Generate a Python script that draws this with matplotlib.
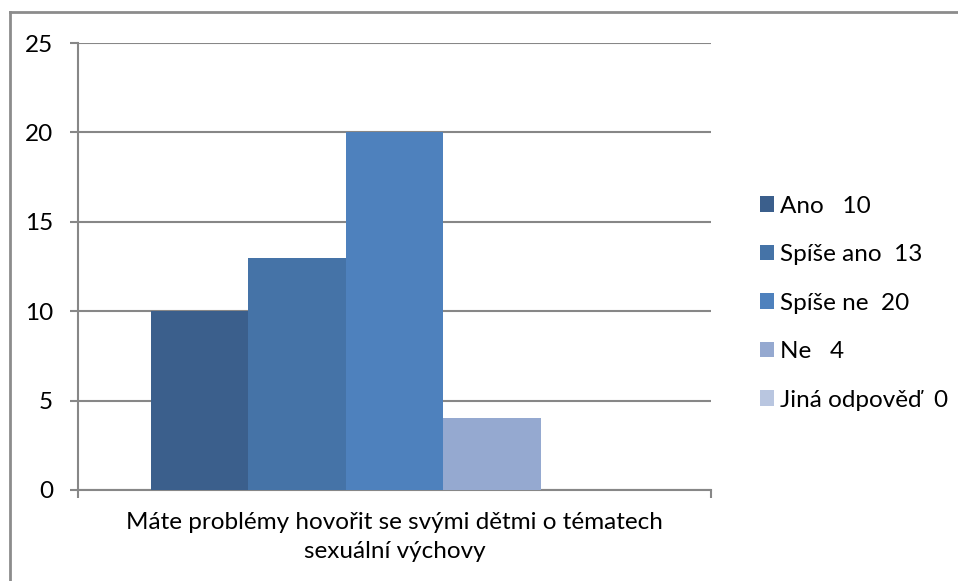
import matplotlib.pyplot as plt
from matplotlib.patches import Patch
from matplotlib.lines import Line2D

plt.rcParams['font.family'] = ['Lato', 'DejaVu Sans']

# data
answers = ['Ano', 'Spíše ano', 'Spíše ne', 'Ne', 'Jiná odpověď']
counts = [10, 13, 20, 4, 0]
legend_labels = ['Ano   10', 'Spíše ano  13', 'Spíše ne  20', 'Ne   4', 'Jiná odpověď  0']
colors = ['#3B5F8C', '#4573A7', '#4E81BD', '#95A9D0', '#B9C6E0']
question = 'Máte problémy hovořit se svými dětmi o tématech\nsexuální výchovy'
yticks = [0, 5, 10, 15, 20, 25]

W, H = 958, 581
fig = plt.figure(figsize=(W / 100, H / 100), dpi=100)
ax = fig.add_axes([78 / W, 1 - 490 / H, (711 - 78) / W, (490 - 43) / H])

# clustered bars, Excel style gap width 150%
n = len(counts)
w = 1 / (n + 1.5)
start = 0.75 * w
for i, (c, col) in enumerate(zip(counts, colors)):
    ax.bar(start + i * w, c, width=w, align='edge', color=col, zorder=3)

grid = '#878787'
fs = 17.5
ax.set_xlim(0, 1)
ax.set_ylim(0, 25)
ax.set_yticks(yticks)
ax.yaxis.grid(True, color=grid, linewidth=1.5, zorder=0)
for s in ['top', 'right']:
    ax.spines[s].set_visible(False)
for s in ['left', 'bottom']:
    ax.spines[s].set_color(grid)
    ax.spines[s].set_linewidth(1.5)
ax.tick_params(axis='y', length=6, width=1.5, color=grid, pad=12, labelsize=fs)

ax.set_xticks([0.5])
ax.set_xticklabels([question], fontsize=fs, linespacing=1.45)
ax.set_xticks([0, 1], minor=True)
ax.tick_params(axis='x', which='major', length=0, pad=16)
ax.tick_params(axis='x', which='minor', length=6, width=1.5, color=grid)

handles = [Patch(facecolor=c, edgecolor='none') for c in colors]
fig.legend(handles, legend_labels, loc='upper left',
           bbox_to_anchor=(750 / W, 1 - 186 / H), frameon=False,
           fontsize=fs, handlelength=0.6, handleheight=0.6,
           handletextpad=0.25, labelspacing=1.13, borderaxespad=0)

# outer chart frame (left and top edges visible)
fig.add_artist(Line2D([10 / W, 10 / W], [0, 1 - 12 / H], color='#8C8C8C', linewidth=2))
fig.add_artist(Line2D([10 / W, 1], [1 - 12 / H, 1 - 12 / H], color='#8C8C8C', linewidth=2))

fig.savefig('out.png', dpi=100)
